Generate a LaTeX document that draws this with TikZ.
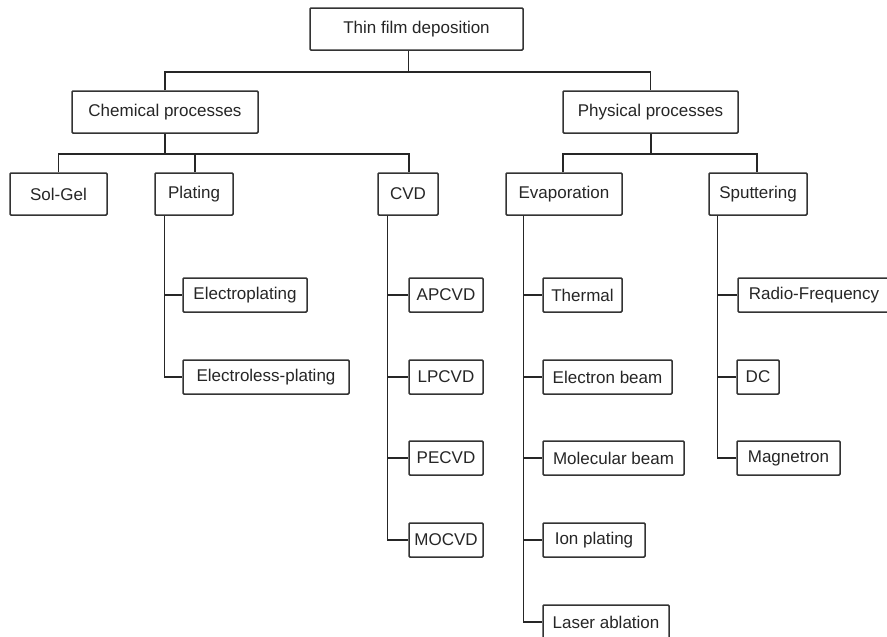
\documentclass[tikz,border=0pt]{standalone}
\usepackage{fontspec}
\setmainfont{Liberation Sans}
\usepackage{tikz}

\begin{document}
\begin{tikzpicture}[x=1pt, y=-1pt,
    box/.style={draw=black!80, line width=1.5pt, rounded corners=1pt, inner sep=0pt,
        minimum height=42pt, text=black!85, font=\fontsize{17}{20}\selectfont},
    leaf/.style={box, minimum height=34pt},
    link/.style={draw=black!85, line width=1.5pt}]
    \useasboundingbox[fill=white] (0,0) rectangle (887,637);

    % Top level
    \node[box, minimum width=213pt] (root) at (416.5,29) {Thin film deposition};
    \node[box, minimum width=186pt] (chem) at (165,112) {Chemical processes};
    \node[box, minimum width=175pt] (phys) at (650.5,112) {Physical processes};

    % Chemical methods
    \node[box, minimum width=97pt] (solgel) at (58.5,194) {Sol-Gel};
    \node[box, minimum width=78pt] (plating) at (194,194) {Plating};
    \node[box, minimum width=60pt] (cvd) at (408,194) {CVD};

    % Physical methods
    \node[box, minimum width=116pt] (evap) at (564,194) {Evaporation};
    \node[box, minimum width=98pt] (sput) at (758,194) {Sputtering};

    % Plating children
    \node[leaf, minimum width=124pt] (eplate) at (245,295) {Electroplating};
    \node[leaf, minimum width=166pt] (elplate) at (266,377) {Electroless-plating};

    % CVD children
    \node[leaf, minimum width=74pt] (apcvd) at (446,295) {APCVD};
    \node[leaf, minimum width=74pt] (lpcvd) at (446,377) {LPCVD};
    \node[leaf, minimum width=74pt] (pecvd) at (446,458) {PECVD};
    \node[leaf, minimum width=74pt] (mocvd) at (446,540) {MOCVD};

    % Evaporation children
    \node[leaf, minimum width=79pt] (thermal) at (582.5,295) {Thermal};
    \node[leaf, minimum width=129pt] (ebeam) at (607.5,377) {Electron beam};
    \node[leaf, minimum width=141pt] (mbeam) at (613.5,458) {Molecular beam};
    \node[leaf, minimum width=102pt] (ionplate) at (594,540) {Ion plating};
    \node[leaf, minimum width=126pt] (laser) at (606,622) {Laser ablation};

    % Sputtering children
    \node[leaf, minimum width=152pt] (rf) at (814,295) {Radio-Frequency};
    \node[leaf, minimum width=42pt] (dc) at (758,377) {DC};
    \node[leaf, minimum width=103pt] (magnetron) at (788.5,458) {Magnetron};

    % Branches
    \draw[link] ([xshift=-8pt]root.south) -- ++(0,21) coordinate (rootbar);
    \draw[link] (chem.north) |- (rootbar) -| (phys.north);

    \draw[link] (chem.south) -- ++(0,20) coordinate (chembar);
    \draw[link] (solgel.north) |- (chembar) -| ([xshift=1pt]cvd.north);
    \draw[link] ([xshift=1pt]plating.north) -- ([xshift=1pt]plating.north |- chembar);

    \draw[link] ([xshift=0.5pt]phys.south) -- ++(0,20) coordinate (physbar);
    \draw[link] ([xshift=-1pt]evap.north) |- (physbar) -| ([xshift=-1pt]sput.north);

    % Trunks
    \foreach \kid in {eplate, elplate}
        \draw[link] ([xshift=10pt]plating.south west) |- (\kid.west);
    \foreach \kid in {apcvd, lpcvd, pecvd, mocvd}
        \draw[link] ([xshift=10pt]cvd.south west) |- (\kid.west);
    \foreach \kid in {thermal, ebeam, mbeam, ionplate, laser}
        \draw[link] ([xshift=18pt]evap.south west) |- (\kid.west);
    \foreach \kid in {rf, dc, magnetron}
        \draw[link] ([xshift=9pt]sput.south west) |- (\kid.west);
\end{tikzpicture}
\end{document}
